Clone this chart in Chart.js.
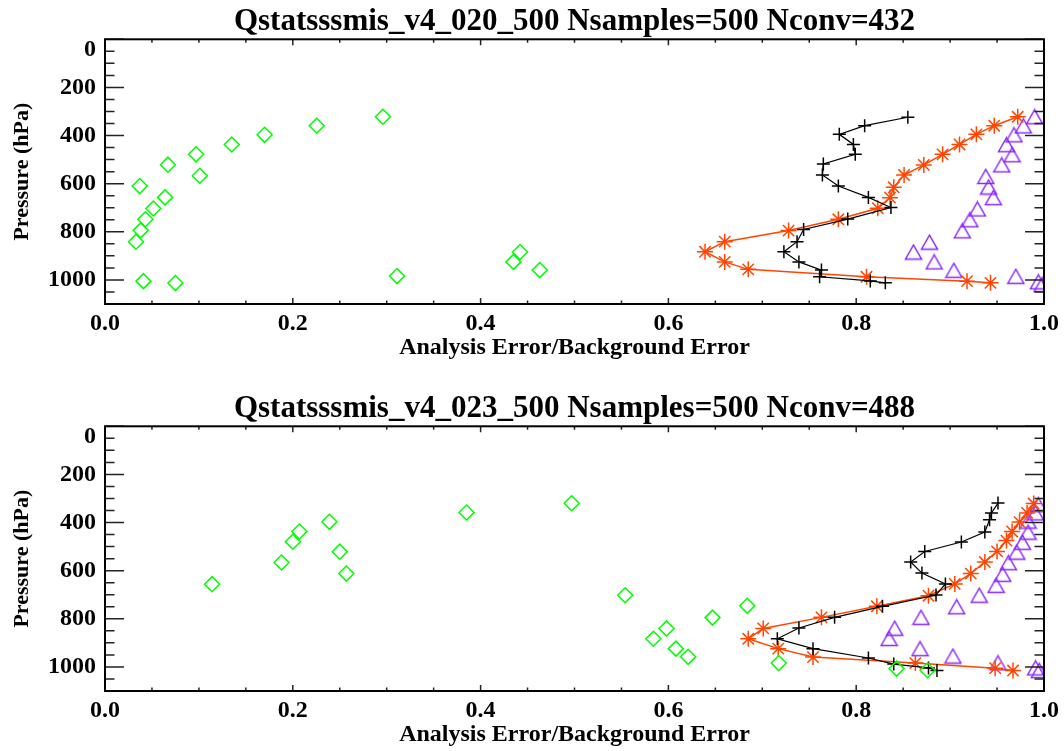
<!DOCTYPE html>
<html>
<head>
<meta charset="utf-8">
<script src="https://cdn.jsdelivr.net/npm/chart.js@4.4.0/dist/chart.umd.min.js"></script>
<style>
  body { margin: 0; background: #fff; }
  canvas { position: absolute; left: 0; }
  #chart020 { top: 0; }
  #chart023 { top: 387px; }
</style>
</head>
<body>
<canvas id="chart020" width="1064" height="364"></canvas>
<canvas id="chart023" width="1064" height="364"></canvas>
<script>
// ---- panel 1: Qstatsssmis_v4_020_500 ----
const diamX020 = [0.296, 0.2255, 0.170, 0.135, 0.097, 0.067, 0.101, 0.037, 0.064, 0.0515, 0.043, 0.038, 0.033, 0.442, 0.435, 0.463, 0.311, 0.041, 0.075];
const diamP020 = [322, 359, 397, 437, 478, 521, 567, 610, 657, 703, 748, 794, 841, 884, 925, 959, 984, 1005, 1013];
const plusX020 = [0.855, 0.809, 0.782, 0.797, 0.799, 0.765, 0.764, 0.781, 0.813, 0.837, 0.791, 0.744, 0.737, 0.723, 0.739, 0.763, 0.761, 0.815, 0.831];
const plusP020 = [324, 359, 395, 437, 478, 518, 564, 610, 657, 699, 747, 790, 841, 883, 925, 959, 987, 1004, 1012];
const starX020 = [0.972, 0.947, 0.928, 0.910, 0.892, 0.872, 0.851, 0.840, 0.836, 0.823, 0.781, 0.728, 0.660, 0.639, 0.660, 0.685, 0.811, 0.918, 0.943];
const starP020 = [322, 359, 395, 437, 478, 522, 564, 615, 658, 702, 748, 795, 841, 883, 925, 956, 987, 1005, 1012];
const triX020 = [0.990, 0.978, 0.968, 0.960, 0.966, 0.955, 0.938, 0.941, 0.946, 0.929, 0.921, 0.913, 0.878, 0.861, 0.883, 0.904, 0.970, 0.994, 0.998];
const triP020 = [322, 360, 397, 438, 480, 522, 570, 614, 658, 705, 750, 796, 843, 884, 925, 960, 985, 1008, 1019];

// ---- panel 2: Qstatsssmis_v4_023_500 ----
const diamX023 = [0.497, 0.385, 0.239, 0.207, 0.200, 0.250, 0.188, 0.257, 0.114, 0.554, 0.684, 0.647, 0.598, 0.584, 0.608, 0.621, 0.7175, 0.843, 0.876];
const diamP023 = [320, 358, 397, 437, 480, 521, 566, 612, 656, 702, 746, 795, 840, 883, 924, 958, 984, 1007, 1014];
const plusX023 = [0.951, 0.944, 0.942, 0.937, 0.912, 0.873, 0.858, 0.870, 0.895, 0.885, 0.828, 0.777, 0.739, 0.716, 0.754, 0.813, 0.840, 0.877, 0.886];
const plusP023 = [319, 360, 388, 439, 481, 520, 564, 610, 655, 701, 748, 794, 838, 883, 924, 963, 988, 1004, 1015];
const starX023 = [0.989, 0.982, 0.974, 0.966, 0.960, 0.950, 0.937, 0.922, 0.905, 0.877, 0.822, 0.763, 0.701, 0.685, 0.717, 0.754, 0.863, 0.948, 0.967];
const starP023 = [321, 360, 398, 437, 475, 520, 564, 612, 655, 704, 748, 794, 840, 883, 924, 959, 984, 1005, 1015];
const triX023 = [0.994, 0.991, 0.983, 0.983, 0.977, 0.971, 0.962, 0.956, 0.949, 0.931, 0.907, 0.869, 0.841, 0.835, 0.868, 0.903, 0.951, 0.991, 0.995];
const triP023 = [326, 360, 394, 440, 482, 523, 567, 615, 661, 702, 750, 794, 839, 882, 924, 955, 983, 1004, 1015];

// axis ticks
const xTickValues = [0, 0.2, 0.4, 0.6, 0.8, 1.0];
const xTickLabels = ['0.0', '0.2', '0.4', '0.6', '0.8', '1.0'];
const yTickValues = [0, 200, 400, 600, 800, 1000];
const yTickLabels = ['0', '200', '400', '600', '800', '1000'];

const FONT = "'Liberation Serif', 'Times New Roman', serif";
const GREEN = '#00ff00';
const PURPLE = '#8c28ff';
const ORANGE = '#ff4500';

function pts(xs, ps) {
    return xs.map((v, i) => ({ x: v, y: ps[i] }));
}

function labelFor(values, labels, v) {
    const i = values.findIndex(t => Math.abs(t - v) < 1e-6);
    return i >= 0 ? labels[i] : '';
}

// open triangle like the IDL symbol, centred on the data point
function makeTriangle() {
    const c = document.createElement('canvas');
    c.width = 19; c.height = 17;
    const g = c.getContext('2d');
    g.strokeStyle = PURPLE;
    g.lineWidth = 1.5;
    g.beginPath();
    g.moveTo(1.5, 15.5);
    g.lineTo(9.5, 1.5);
    g.lineTo(17.5, 15.5);
    g.closePath();
    g.stroke();
    return c;
}
const triImg = makeTriangle();

// inward ticks on all four sides plus the frame
const frameTicks = {
    id: 'frameTicks',
    afterDatasetsDraw(chart) {
        const { ctx, chartArea: a, scales: { x, y } } = chart;
        ctx.save();
        ctx.strokeStyle = '#222';
        ctx.lineWidth = 1.5;
        ctx.beginPath();
        x.ticks.forEach(t => {
            const px = x.getPixelForValue(t.value);
            const len = labelFor(xTickValues, xTickLabels, t.value) ? 6 : 3.5;
            ctx.moveTo(px, a.bottom); ctx.lineTo(px, a.bottom - len);
            ctx.moveTo(px, a.top); ctx.lineTo(px, a.top + len);
        });
        y.ticks.forEach(t => {
            const py = y.getPixelForValue(t.value);
            const len = labelFor(yTickValues, yTickLabels, t.value) ? 19 : 9.5;
            ctx.moveTo(a.left, py); ctx.lineTo(a.left + len, py);
            ctx.moveTo(a.right, py); ctx.lineTo(a.right - len, py);
        });
        ctx.stroke();
        ctx.strokeStyle = '#000';
        ctx.lineWidth = 2;
        ctx.strokeRect(a.left, a.top, a.width, a.height);

        // IDL keeps the top "0" label inside the frame, a bit below the tick
        const p0 = y.getPixelForValue(yTickValues[0]);
        ctx.fillStyle = '#000';
        ctx.font = 'bold 24px ' + FONT;
        ctx.textAlign = 'right';
        ctx.textBaseline = 'middle';
        ctx.fillText(yTickLabels[0], a.left - 9, p0 + 10);
        ctx.restore();
    }
};

function makePanel(id, title, d) {
    const ctx = document.getElementById(id).getContext('2d');
    return new Chart(ctx, {
        type: 'scatter',
        data: {
            datasets: [{
                data: pts(d.diamX, d.diamP),
                pointStyle: 'rectRot',
                pointRadius: 7.5,
                borderColor: GREEN,
                backgroundColor: 'rgba(0,0,0,0)',
                borderWidth: 1.5,
                showLine: false,
                clip: 0
            }, {
                data: pts(d.plusX, d.plusP),
                pointStyle: 'cross',
                pointRadius: 6.5,
                pointBorderWidth: 1.5,
                borderColor: '#000',
                borderWidth: 1.2,
                showLine: true,
                tension: 0,
                clip: 0
            }, {
                data: pts(d.starX, d.starP),
                pointStyle: 'star',
                pointRadius: 8,
                pointBorderWidth: 1.5,
                borderColor: ORANGE,
                borderWidth: 1.5,
                showLine: true,
                tension: 0,
                clip: 0
            }, {
                data: pts(d.triX, d.triP),
                pointStyle: triImg,
                showLine: false,
                clip: 0
            }]
        },
        options: {
            responsive: false,
            animation: false,
            events: [],
            layout: { padding: { left: 0, right: 20, top: 0, bottom: 0 } },
            plugins: {
                legend: { display: false },
                tooltip: { enabled: false },
                title: {
                    display: true,
                    text: title,
                    fullSize: false,
                    color: '#000',
                    font: { family: FONT, size: 31, weight: 'bold', lineHeight: 1.1 },
                    padding: { top: 4.5, bottom: 0.7 }
                }
            },
            scales: {
                x: {
                    type: 'linear',
                    min: 0,
                    max: 1,
                    grid: { display: false, drawTicks: false },
                    border: { display: false },
                    afterFit: s => { s.height = 60; },
                    ticks: {
                        stepSize: 0.05,
                        autoSkip: false,
                        maxRotation: 0,
                        padding: 5,
                        color: '#000',
                        font: { family: FONT, size: 24, weight: 'bold' },
                        callback: v => labelFor(xTickValues, xTickLabels, v)
                    },
                    title: {
                        display: true,
                        text: 'Analysis Error/Background Error',
                        color: '#000',
                        font: { family: FONT, size: 24, weight: 'bold' },
                        padding: { top: 0, bottom: 2 }
                    }
                },
                y: {
                    type: 'linear',
                    min: 0,
                    max: 1100,
                    reverse: true,
                    grid: { display: false, drawTicks: false },
                    border: { display: false },
                    afterFit: s => { s.width = 105; },
                    ticks: {
                        stepSize: 50,
                        autoSkip: false,
                        padding: 9,
                        color: '#000',
                        font: { family: FONT, size: 24, weight: 'bold' },
                        // "0" is drawn by frameTicks
                        callback: v => (v === 0 ? '' : labelFor(yTickValues, yTickLabels, v))
                    },
                    title: {
                        display: true,
                        text: 'Pressure (hPa)',
                        color: '#000',
                        font: { family: FONT, size: 22, weight: 'bold' },
                        padding: { top: 9, bottom: 0 }
                    }
                }
            }
        },
        plugins: [frameTicks]
    });
}

makePanel('chart020', 'Qstatsssmis_v4_020_500 Nsamples=500 Nconv=432', {
    diamX: diamX020, diamP: diamP020,
    plusX: plusX020, plusP: plusP020,
    starX: starX020, starP: starP020,
    triX: triX020, triP: triP020
});

makePanel('chart023', 'Qstatsssmis_v4_023_500 Nsamples=500 Nconv=488', {
    diamX: diamX023, diamP: diamP023,
    plusX: plusX023, plusP: plusP023,
    starX: starX023, starP: starP023,
    triX: triX023, triP: triP023
});
</script>
</body>
</html>
